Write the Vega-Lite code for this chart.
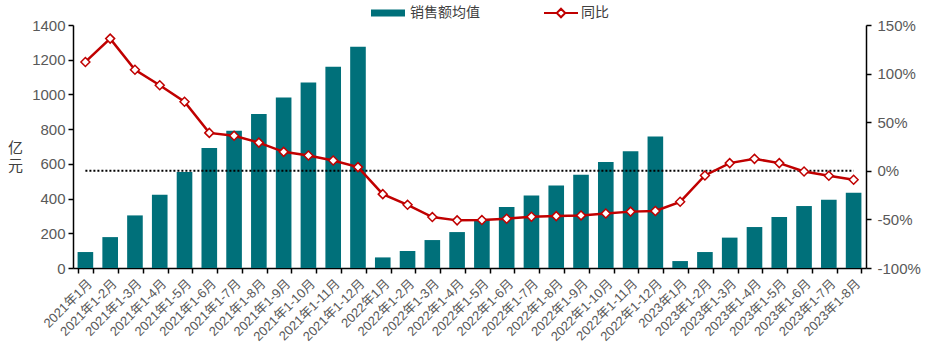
{
  "$schema": "https://vega.github.io/schema/vega-lite/v6.json",
  "width": 793,
  "height": 243,
  "autosize": {"type": "none"},
  "padding": {"left": 73, "top": 25, "right": 64, "bottom": 85},
  "background": "white",
  "config": {
    "view": {"stroke": null},
    "font": "Liberation Sans, Noto Sans CJK SC",
    "axis": {
      "domainColor": "black",
      "domainWidth": 1.5,
      "tickColor": "black",
      "tickWidth": 1.5,
      "tickSize": 5,
      "labelColor": "#595959",
      "labelFont": "Liberation Sans, Noto Sans CJK SC",
      "titleFont": "Noto Sans CJK SC",
      "grid": false
    }
  },
  "data": {
    "values": [
      {"period": "2021年1月", "sales": 92, "yoy": 112},
      {"period": "2021年1-2月", "sales": 178, "yoy": 136},
      {"period": "2021年1-3月", "sales": 303, "yoy": 104},
      {"period": "2021年1-4月", "sales": 422, "yoy": 88},
      {"period": "2021年1-5月", "sales": 553, "yoy": 71},
      {"period": "2021年1-6月", "sales": 691, "yoy": 39},
      {"period": "2021年1-7月", "sales": 791, "yoy": 36},
      {"period": "2021年1-8月", "sales": 887, "yoy": 29},
      {"period": "2021年1-9月", "sales": 983, "yoy": 19.5},
      {"period": "2021年1-10月", "sales": 1069, "yoy": 15.7},
      {"period": "2021年1-11月", "sales": 1160, "yoy": 10.6},
      {"period": "2021年1-12月", "sales": 1275, "yoy": 3.8},
      {"period": "2022年1月", "sales": 61, "yoy": -24},
      {"period": "2022年1-2月", "sales": 98, "yoy": -35},
      {"period": "2022年1-3月", "sales": 161, "yoy": -47.6},
      {"period": "2022年1-4月", "sales": 207, "yoy": -51},
      {"period": "2022年1-5月", "sales": 278, "yoy": -50.7},
      {"period": "2022年1-6月", "sales": 351, "yoy": -49.3},
      {"period": "2022年1-7月", "sales": 418, "yoy": -47.3},
      {"period": "2022年1-8月", "sales": 476, "yoy": -46.6},
      {"period": "2022年1-9月", "sales": 537, "yoy": -45.9},
      {"period": "2022年1-10月", "sales": 610, "yoy": -43.9},
      {"period": "2022年1-11月", "sales": 672, "yoy": -42},
      {"period": "2022年1-12月", "sales": 758, "yoy": -41.4},
      {"period": "2023年1月", "sales": 40, "yoy": -31.9},
      {"period": "2023年1-2月", "sales": 92, "yoy": -4.8},
      {"period": "2023年1-3月", "sales": 175, "yoy": 7.9},
      {"period": "2023年1-4月", "sales": 236, "yoy": 12.3},
      {"period": "2023年1-5月", "sales": 294, "yoy": 7.9},
      {"period": "2023年1-6月", "sales": 357, "yoy": -0.7},
      {"period": "2023年1-7月", "sales": 393, "yoy": -5.1},
      {"period": "2023年1-8月", "sales": 434, "yoy": -9.2}
    ]
  },
  "encoding": {
    "x": {
      "field": "period",
      "type": "nominal",
      "sort": null,
      "scale": {"paddingInner": 0.37, "paddingOuter": 0.185},
      "axis": {
        "title": null,
        "labelAngle": -45,
        "labelFontSize": 13,
        "tickBand": "extent",
        "labelPadding": 4
      }
    }
  },
  "layer": [
    {
      "mark": {"type": "bar", "color": "#00707A"},
      "encoding": {
        "y": {
          "field": "sales",
          "type": "quantitative",
          "scale": {"domain": [0, 1400], "nice": false},
          "axis": {
            "values": [0, 200, 400, 600, 800, 1000, 1200, 1400],
            "format": "d",
            "labelFontSize": 15,
            "labelPadding": 3,
            "title": ["亿", "元"],
            "titleAngle": 0,
            "titleFontSize": 15,
            "titleFontWeight": "normal",
            "titleColor": "#404040",
            "titleAlign": "center",
            "titleBaseline": "middle",
            "titleX": -58,
            "titleY": 122,
            "titleLineHeight": 18
          }
        },
        "color": {
          "datum": "销售额均值",
          "scale": {"range": ["#00707A"]},
          "legend": {
            "title": null,
            "orient": "none",
            "legendX": 297,
            "legendY": -30,
            "padding": 0,
            "symbolType": "M-1,-0.2H1V0.2H-1Z",
            "symbolSize": 1156,
            "labelFontSize": 14,
            "labelColor": "#404040",
            "labelOffset": 4,
            "labelFont": "Noto Sans CJK SC"
          }
        }
      }
    },
    {
      "encoding": {
        "y": {
          "field": "yoy",
          "type": "quantitative",
          "scale": {"domain": [-100, 150], "nice": false},
          "axis": {
            "orient": "right",
            "title": null,
            "values": [-100, -50, 0, 50, 100, 150],
            "labelExpr": "datum.value + '%'",
            "labelFontSize": 15,
            "labelPadding": 6
          }
        }
      },
      "layer": [
        {
          "mark": {"type": "line", "color": "black", "strokeDash": [2, 2], "strokeWidth": 2},
          "encoding": {"y": {"datum": 0}}
        },
        {
          "mark": {"type": "line", "strokeWidth": 2.5},
          "encoding": {
            "color": {
              "datum": "同比",
              "scale": {"range": ["#C00000"]},
              "legend": {
                "title": null,
                "orient": "none",
                "legendX": 470,
                "legendY": -30,
                "padding": 0,
                "symbolType": "M-1,0H-0.25M0.25,0H1M0,-0.25L0.25,0L0,0.25L-0.25,0Z",
                "symbolSize": 1156,
                "symbolStrokeWidth": 2,
                "symbolFillColor": "white",
                "symbolStrokeColor": "#C00000",
                "labelFontSize": 14,
                "labelColor": "#404040",
                "labelOffset": 2,
                "labelFont": "Noto Sans CJK SC",
                "encode": {"symbols": {"update": {"fill": {"value": "white"}, "stroke": {"value": "#C00000"}}}}
              }
            }
          }
        },
        {
          "mark": {"type": "point", "shape": "diamond", "filled": true, "fill": "white", "stroke": "#C00000", "strokeWidth": 1.5, "size": 80, "opacity": 1}
        }
      ]
    }
  ],
  "resolve": {"scale": {"y": "independent", "color": "independent"}}
}
